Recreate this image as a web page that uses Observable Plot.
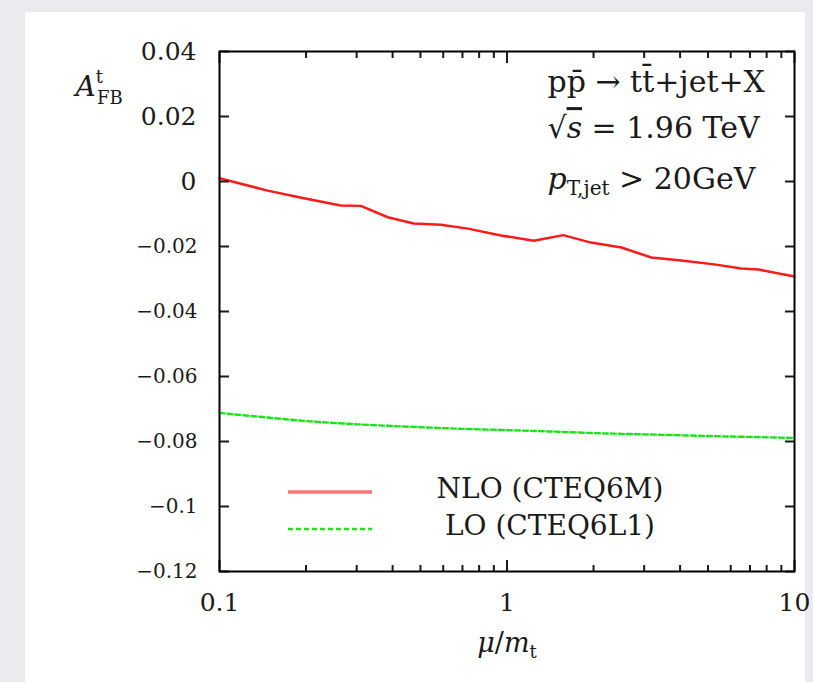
<!DOCTYPE html>
<html><head><meta charset="utf-8">
<script src="https://cdn.jsdelivr.net/npm/d3@7"></script>
<script src="https://cdn.jsdelivr.net/npm/@observablehq/plot@0.6"></script>
<style>
html,body{margin:0;padding:0;}
body{width:813px;height:682px;background:#e9ebee;position:relative;overflow:hidden;}
#panel{position:absolute;left:25px;top:12px;width:780px;height:670px;background:#fff;}
#chart{position:absolute;left:0;top:0;}
</style></head><body><div id="panel"></div><div id="chart"></div>
<script>
// NLO (CTEQ6M) curve
const muNLO  = [0.1, 0.147, 0.191, 0.264, 0.31, 0.385, 0.474, 0.589, 0.731, 0.953, 1.24, 1.57, 1.96, 2.5, 3.18, 4.04, 5.26, 6.53, 7.49, 10];
const afbNLO = [0.0010, -0.0028, -0.0049, -0.0074, -0.0075, -0.0110, -0.0129, -0.0133, -0.0145, -0.0166, -0.0182, -0.0165, -0.0188, -0.0203, -0.0234, -0.0243, -0.0255, -0.0268, -0.0271, -0.0292];
// LO (CTEQ6L1) curve
const muLO  = [0.1, 0.15, 0.2, 0.3, 0.5, 0.7, 1, 1.5, 2, 3, 5, 7, 10];
const afbLO = [-0.0712, -0.0727, -0.0737, -0.0747, -0.0756, -0.0761, -0.0765, -0.0770, -0.0774, -0.0778, -0.0783, -0.0786, -0.0789];

const seriesNames  = ["NLO (CTEQ6M)", "LO (CTEQ6L1)"];
const seriesColors = ["#ff1a1a", "#19e619"];
const yTicksPos = [0.04, 0.02, 0];
const yTicksNeg = [-0.02, -0.04, -0.06, -0.08, -0.1, -0.12];
const xTicksMajor = [0.1, 1, 10];
const xTicksMinor = [0.2,0.3,0.4,0.5,0.6,0.7,0.8,0.9,2,3,4,5,6,7,8,9];
const annotations = ["pp̄ → tt̄+jet+X", "√s = 1.96 TeV", "pT,jet > 20GeV"];

const nlo = muNLO.map((m, i) => ({mu: m, afb: afbNLO[i]}));
const lo  = muLO.map((m, i) => ({mu: m, afb: afbLO[i]}));
const yAll = [...yTicksPos, ...yTicksNeg];
const fmtY = d => d === 0 ? "0" : (d < 0 ? "\u2212" + String(Math.abs(d)) : String(d));
const FONT = "'DejaVu Serif', serif";

const plot = Plot.plot({
  width: 813, height: 682,
  marginLeft: 219, marginRight: 19, marginTop: 51, marginBottom: 111,
  style: {background: "transparent", fontFamily: FONT, color: "#1a1a1a", overflow: "visible"},
  x: {type: "log", domain: [0.1, 10], label: null},
  y: {domain: [-0.12, 0.04], label: null},
  marks: [
    Plot.line(nlo, {x: "mu", y: "afb", stroke: seriesColors[0], strokeWidth: 2.5}),
    Plot.line(lo, {x: "mu", y: "afb", stroke: seriesColors[1], strokeWidth: 2.4, strokeDasharray: "5,3", curve: "monotone-x"}),
    Plot.axisY(yTicksPos, {anchor: "left", tickSize: 0, tickPadding: 23, fontSize: 25, tickFormat: fmtY, label: null}),
    Plot.axisY(yTicksNeg, {anchor: "left", tickSize: 0, tickPadding: 22, fontSize: 20, tickFormat: fmtY, label: null}),
    Plot.axisY(yAll, {anchor: "left", tickSize: -10, strokeWidth: 2, text: null, label: null}),
    Plot.axisY(yAll, {anchor: "right", tickSize: -10, strokeWidth: 2, text: null, label: null}),
    Plot.axisX(xTicksMajor, {anchor: "bottom", tickSize: -11, strokeWidth: 2, text: null, label: null}),
    Plot.axisX(xTicksMinor, {anchor: "bottom", tickSize: -6, strokeWidth: 2, text: null, label: null}),
    Plot.axisX(xTicksMajor, {anchor: "top", tickSize: -11, strokeWidth: 2, text: null, label: null}),
    Plot.axisX(xTicksMinor, {anchor: "top", tickSize: -6, strokeWidth: 2, text: null, label: null}),
    Plot.axisX(xTicksMajor, {anchor: "bottom", tickSize: 0, tickPadding: 22, fontSize: 25, tickFormat: d => String(d), label: null}),
    Plot.frame({stroke: "#000", strokeWidth: 2}),
    Plot.text([annotations[0]], {frameAnchor: "top-right", dx: -247, dy: 31, textAnchor: "start", lineAnchor: "middle", fontSize: 30}),
    Plot.text([annotations[1]], {frameAnchor: "top-right", dx: -247, dy: 77, textAnchor: "start", lineAnchor: "middle", fontSize: 30}),
    Plot.text([annotations[2]], {frameAnchor: "top-right", dx: -247, dy: 128, textAnchor: "start", lineAnchor: "middle", fontSize: 30}),
    Plot.text(["AFBLABEL"], {frameAnchor: "top-left", dx: -144, dy: 36, textAnchor: "start", lineAnchor: "middle", fontSize: 28}),
    Plot.text(["MULABEL"], {frameAnchor: "bottom", dx: 0, dy: 72, textAnchor: "middle", lineAnchor: "middle", fontSize: 27})
  ]
});
document.getElementById("chart").appendChild(plot);

// rich text (sub/superscripts)
const rich = {
  "AFBLABEL": '<tspan font-style="italic">A</tspan><tspan font-size="18" dy="-13">t</tspan><tspan font-size="18" dx="-6" dy="21">FB</tspan>',
  "MULABEL": '<tspan font-style="italic">μ</tspan>/<tspan font-style="italic">m</tspan><tspan font-size="18" dy="6">t</tspan>',
  "√s = 1.96 TeV": '√<tspan font-style="italic" text-decoration="overline">s</tspan> = 1.96 TeV',
  "pT,jet > 20GeV": '<tspan font-style="italic">p</tspan><tspan font-size="20" dy="6">T,jet</tspan><tspan dy="-6"> &gt; 20GeV</tspan>'
};
d3.select(plot).selectAll("text").each(function() {
  const t = this.textContent;
  if (rich[t]) this.innerHTML = rich[t];
});

// legend inside the frame
const svg = d3.select(plot);
const lg = svg.append("g").attr("font-family", FONT).attr("font-size", 28).attr("fill", "#1a1a1a");
seriesNames.forEach((name, i) => {
  const y = 489 + i * 37;
  lg.append("line").attr("x1", 288).attr("x2", 372).attr("y1", y + 3).attr("y2", y + 3)
    .attr("stroke", seriesColors[i]).attr("stroke-width", i ? 2.4 : 3.5).attr("stroke-opacity", i ? 1 : 0.6)
    .attr("stroke-dasharray", i ? "5,3" : null);
  lg.append("text").attr("x", 550).attr("y", y).attr("dy", "0.32em").attr("text-anchor", "middle").text(name);
});
</script></body></html>
